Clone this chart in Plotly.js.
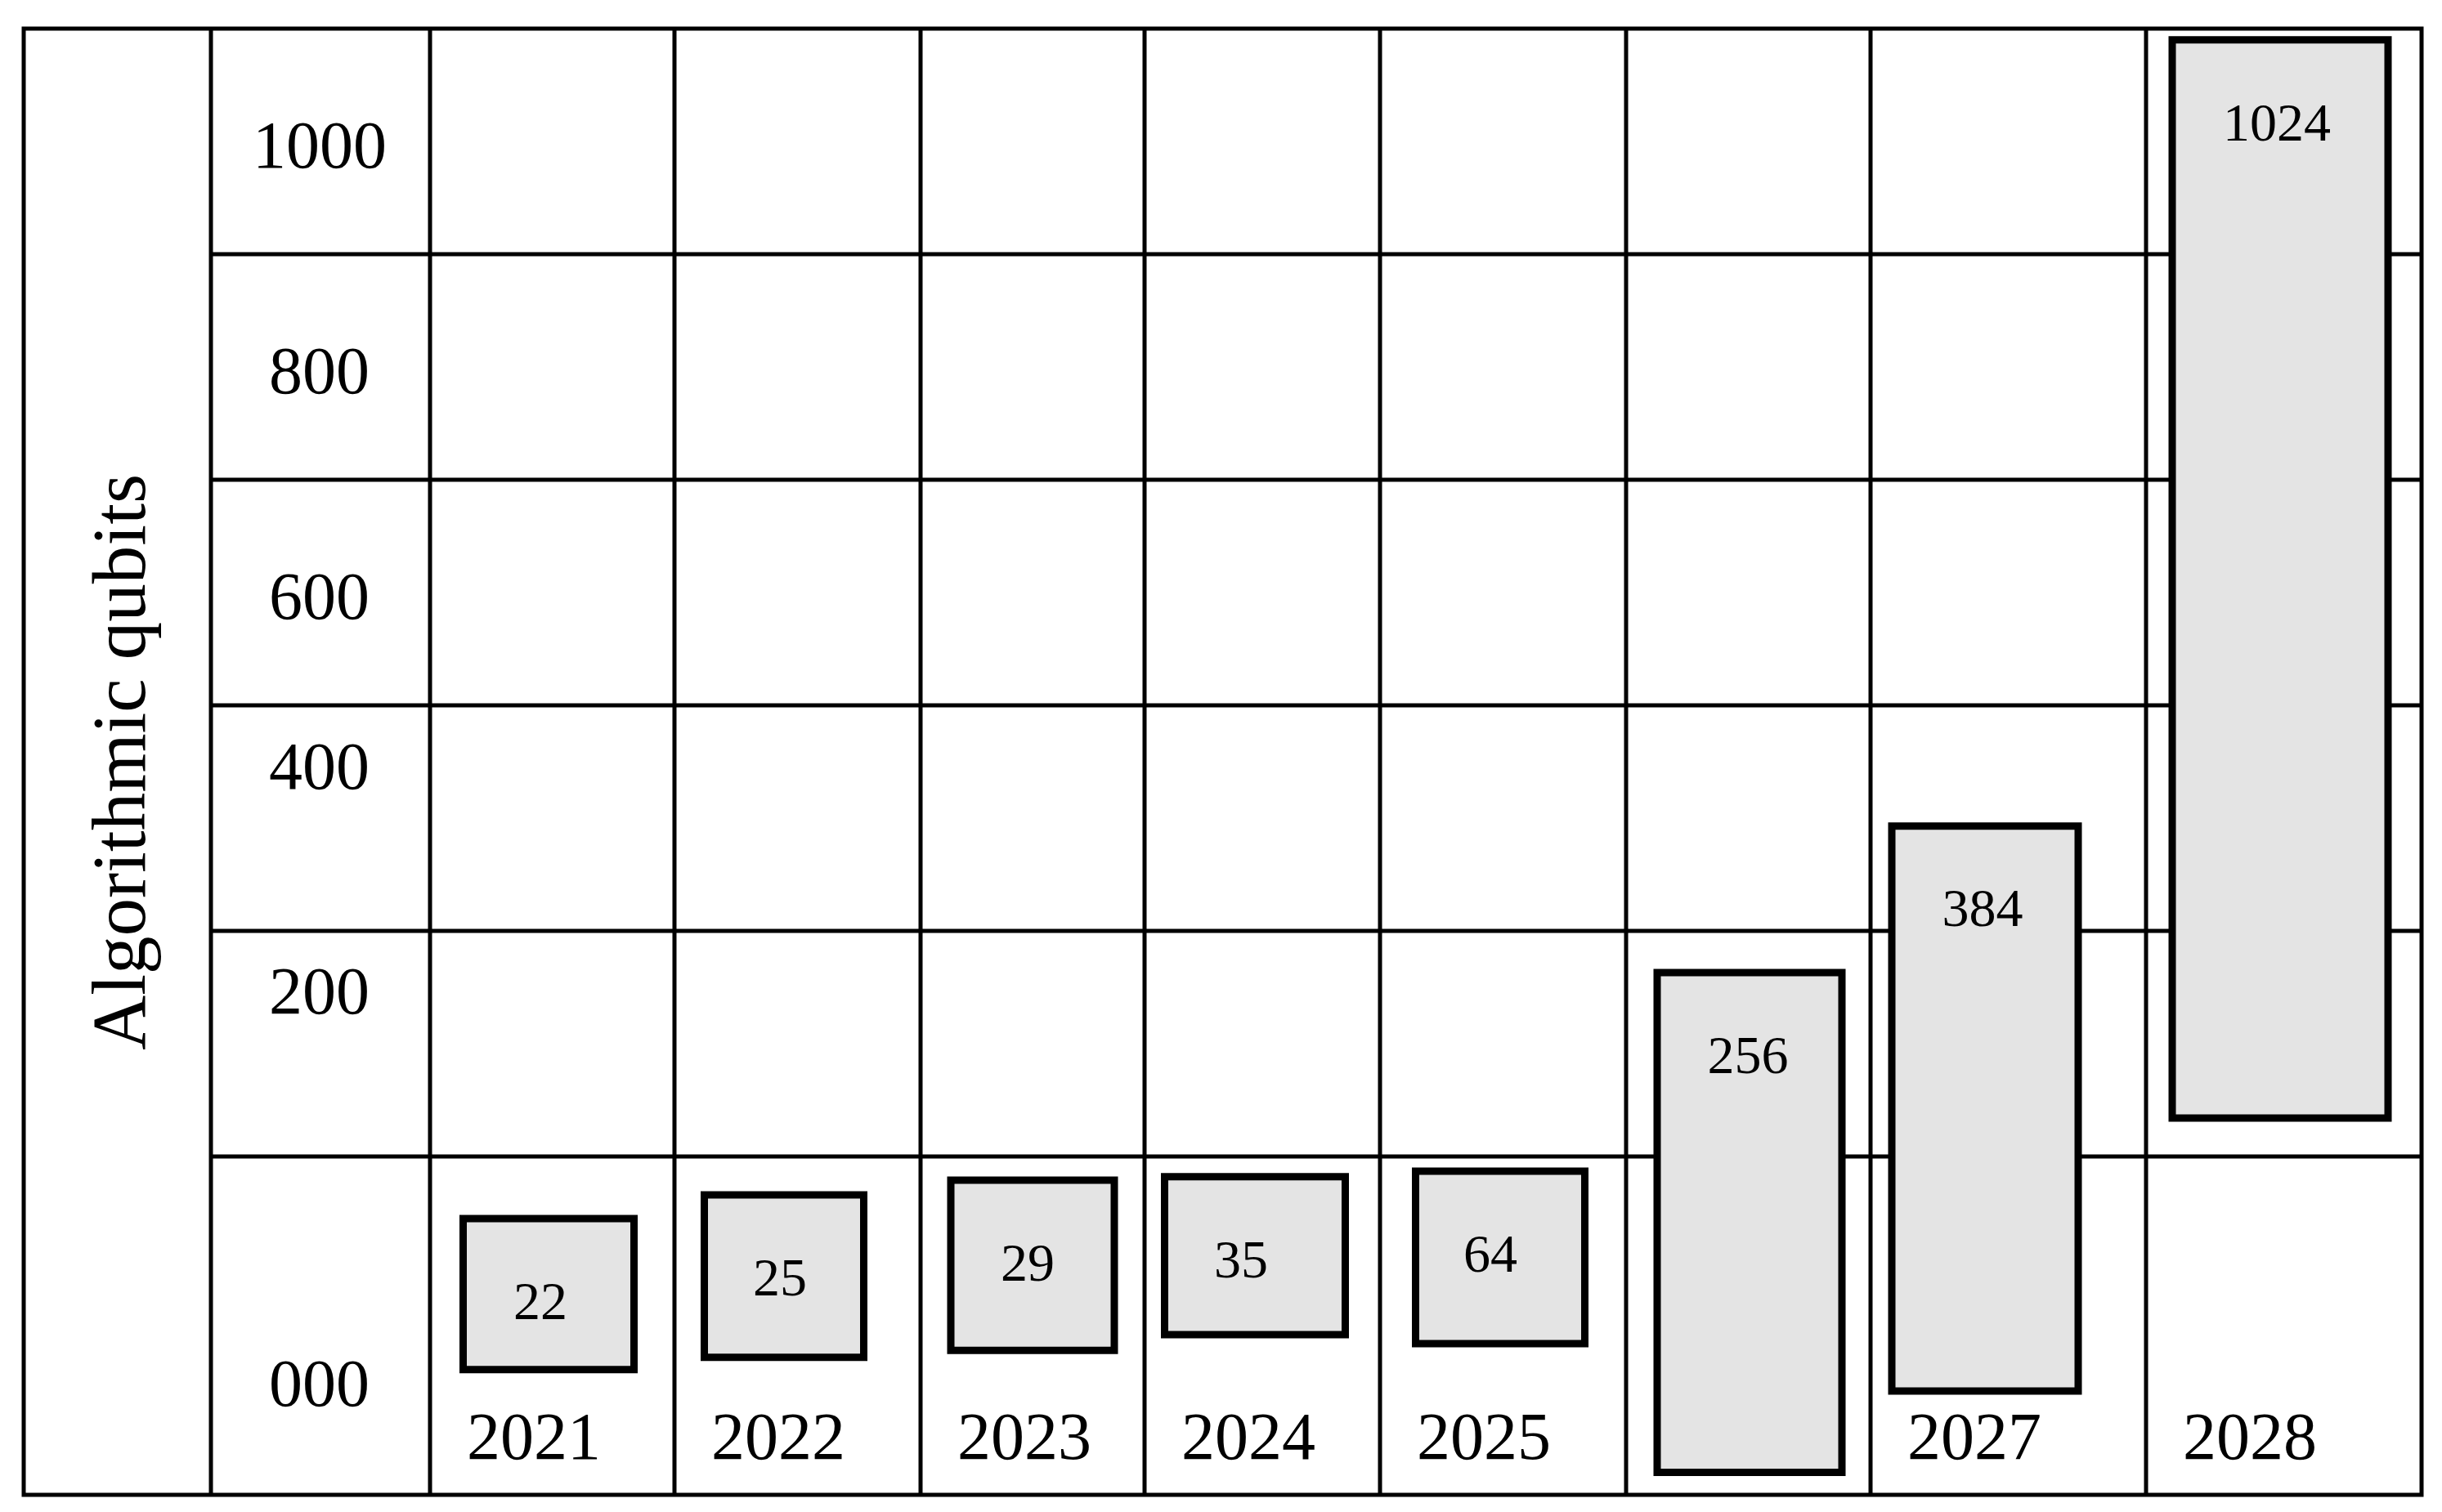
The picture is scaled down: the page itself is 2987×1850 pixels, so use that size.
<!DOCTYPE html>
<html>
<head>
<meta charset="utf-8">
<script src="https://cdn.plot.ly/plotly-3.0.1.min.js"></script>
<style>html,body{margin:0;padding:0;background:#fff;}</style>
</head>
<body>
<div id="chart" style="width:2987px;height:1850px;"></div>
<script>
// ---- data ----
const years = ['2021', '2022', '2023', '2024', '2025', '2026', '2027', '2028'];
const qubits = [22, 25, 29, 35, 64, 256, 384, 1024];
// floating boxes: top and bottom on the value axis
const boxTop = [-55, -34, -21, -18, -13, 163, 293, 990];
const boxBottom = [-189, -178, -172, -158, -166, -280, -208, 34];
// y-axis tick labels and grid values
const tickText = ['1000', '800', '600', '400', '200', '000'];
const gridVals = [0, 200, 400, 600, 800];
const yTitle = 'Algorithmic qubits';

// ---- layout geometry ----
const W = 2987, H = 1850;
const FONT = '"Liberation Serif", "Times New Roman", serif';
const colEdges = [0, 299, 600, 874, 1162, 1463, 1762, 2099, 2436];
const boxCenter = [145, 433, 737, 1009, 1309, 1614, 1902, 2263];
const boxWidth = [209, 195, 200, 221, 207, 226, 228, 264];
const valueLabelX = [135, 428, 731, 992, 1297, 1612, 1899, 2259];
const tickLabelY = [897, 697, 497, 346, 147, -201];
const yearLabelY = -253;
const yearLabelOffset = 127;
const valueLabelDrop = 77;

const px = v => v / W;
const py = v => 1 - v / H;
const LW = 5;

const shapes = [];
// outer frame
shapes.push({type: 'rect', xref: 'paper', yref: 'paper', x0: px(29), x1: px(2962), y0: py(1829), y1: py(35),
  line: {color: '#000', width: LW}, layer: 'below'});
// separators of title column and tick-label column
[258, 526].forEach(x => shapes.push({type: 'line', xref: 'paper', yref: 'paper', x0: px(x), x1: px(x), y0: py(1829), y1: py(35),
  line: {color: '#000', width: LW}, layer: 'below'}));
// vertical year column separators
colEdges.slice(1, -1).forEach(x => shapes.push({type: 'line', xref: 'x', yref: 'paper', x0: x, x1: x, y0: py(1829), y1: py(35),
  line: {color: '#000', width: LW}, layer: 'below'}));
// horizontal row lines
gridVals.forEach(v => shapes.push({type: 'line', xref: 'paper', yref: 'y', x0: px(258), x1: px(2962), y0: v, y1: v,
  line: {color: '#000', width: LW}, layer: 'below'}));

const annotations = tickText.map((t, i) => ({
  xref: 'paper', yref: 'y', x: px(391), y: tickLabelY[i], text: t, showarrow: false,
  xanchor: 'center', yanchor: 'middle', font: {family: FONT, size: 82, color: '#000'}
}));
annotations.push({
  xref: 'paper', yref: 'paper', x: px(146), y: py(933), text: yTitle, showarrow: false, textangle: -90,
  xanchor: 'center', yanchor: 'middle', font: {family: FONT, size: 93, color: '#000'}
});

// year labels (on the base subplot, so the boxes cover them)
const yearTrace = {
  type: 'scatter', mode: 'text', xaxis: 'x', yaxis: 'y',
  x: years.map((y, i) => colEdges[i] + yearLabelOffset),
  y: years.map(() => yearLabelY),
  text: years, textposition: 'middle center',
  textfont: {family: FONT, size: 82, color: '#000'},
  hoverinfo: 'skip', showlegend: false
};

const boxTrace = {
  type: 'bar', xaxis: 'x2', yaxis: 'y2',
  x: boxCenter, width: boxWidth,
  base: boxBottom, y: boxTop.map((t, i) => t - boxBottom[i]),
  marker: {color: '#e4e4e4', line: {color: '#000', width: 9}},
  hoverinfo: 'skip', showlegend: false
};

const valueTrace = {
  type: 'scatter', mode: 'text', xaxis: 'x2', yaxis: 'y2',
  x: valueLabelX, y: boxTop.map(t => t - valueLabelDrop),
  text: qubits.map(String), textposition: 'middle center',
  textfont: {family: FONT, size: 66, color: '#000'},
  hoverinfo: 'skip', showlegend: false, cliponaxis: false
};

const axisCommon = {showgrid: false, zeroline: false, showline: false, showticklabels: false, ticks: '', fixedrange: true};

const layout = {
  width: W, height: H,
  margin: {l: 0, r: 0, t: 0, b: 0, pad: 0},
  paper_bgcolor: '#fff', plot_bgcolor: 'rgba(0,0,0,0)',
  showlegend: false, hovermode: false,
  xaxis: Object.assign({}, axisCommon, {domain: [526 / W, 2962 / W], range: [0, 2436]}),
  yaxis: Object.assign({}, axisCommon, {domain: [py(1829), py(35)], range: [-300, 1000]}),
  xaxis2: Object.assign({}, axisCommon, {overlaying: 'x', range: [0, 2436]}),
  yaxis2: Object.assign({}, axisCommon, {overlaying: 'y', range: [-300, 1000]}),
  shapes: shapes,
  annotations: annotations,
  bargap: 0
};

Plotly.newPlot('chart', [yearTrace, boxTrace, valueTrace], layout, {displayModeBar: false, staticPlot: true});
</script>
</body>
</html>
